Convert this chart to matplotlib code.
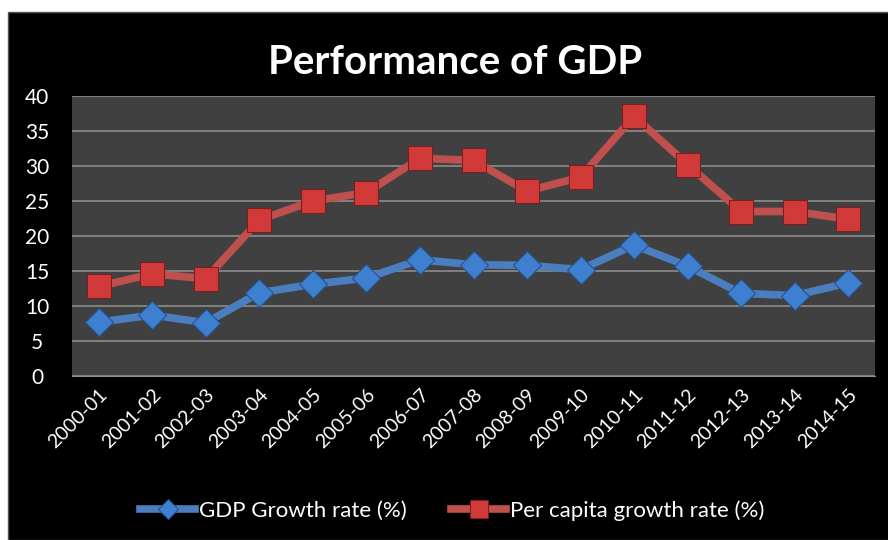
import matplotlib
matplotlib.use('Agg')
import matplotlib.pyplot as plt
import matplotlib.patches as mpatches

# DATA -----------------------------------------------------------------------------------------------------------------
years = ['2000-01', '2001-02', '2002-03', '2003-04', '2004-05', '2005-06', '2006-07', '2007-08',
         '2008-09', '2009-10', '2010-11', '2011-12', '2012-13', '2013-14', '2014-15']
gdp_growth = [7.7, 8.7, 7.6, 11.9, 13.1, 14.0, 16.6, 15.9, 15.8, 15.2, 18.7, 15.7, 11.8, 11.5, 13.3]
per_capita_growth = [12.8, 14.6, 13.9, 22.3, 25.0, 26.2, 31.1, 30.8, 26.4, 28.4, 37.1, 30.2, 23.5, 23.5, 22.4]
y_ticks = [0, 5, 10, 15, 20, 25, 30, 35, 40]

# STYLE ----------------------------------------------------------------------------------------------------------------
plt.rcParams['font.family'] = ['Lato', 'DejaVu Sans']
blue_line, blue_mark, blue_edge = '#4a7ebf', '#3f7fd0', '#24538f'
red_line, red_mark, red_edge = '#c0504d', '#d23a3a', '#7d1d1d'

fig = plt.figure(figsize=(8.88, 5.40), dpi=100, facecolor='white')
# black chart block behind everything
fig.add_artist(mpatches.Rectangle((8 / 888, 0), 1, (540 - 12) / 540, transform=fig.transFigure,
                                  facecolor='black', edgecolor='#555555', linewidth=1, zorder=-5))

ax = fig.add_axes([72 / 888, (540 - 376) / 540, (875 - 72) / 888, (376 - 96) / 540])
ax.set_zorder(1)
ax.set_facecolor('#404040')
x = list(range(len(years)))

ax.plot(x, gdp_growth, color=blue_line, linewidth=5.5, marker='D', markersize=14,
        markerfacecolor=blue_mark, markeredgecolor=blue_edge, markeredgewidth=0.8,
        label='GDP Growth rate (%)', zorder=3)
ax.plot(x, per_capita_growth, color=red_line, linewidth=5.5, marker='s', markersize=17,
        markerfacecolor=red_mark, markeredgecolor=red_edge, markeredgewidth=0.8,
        label='Per capita growth rate (%)', zorder=3)

ax.set_xlim(-0.5, len(years) - 0.5)
ax.set_ylim(0, 40)
ax.set_yticks(y_ticks)
ax.set_xticks(x)
ax.set_xticklabels(years, rotation=45, ha='right', rotation_mode='anchor')
ax.tick_params(axis='both', colors='white', length=0)
ax.tick_params(axis='y', pad=25, labelsize=15)
ax.tick_params(axis='x', pad=7, labelsize=14)
for lbl in ax.get_yticklabels():
    lbl.set_horizontalalignment('center')
ax.grid(axis='y', color='#8c8c8c', linewidth=1.2)
ax.set_axisbelow(True)
for side in ['top', 'right', 'left']:
    ax.spines[side].set_visible(False)
ax.spines['bottom'].set_color('#8c8c8c')

fig.text(0.512, 0.884, 'Performance of GDP', color='white', fontsize=29, fontweight='bold',
         ha='center', va='center')

leg = fig.legend(loc='center', bbox_to_anchor=(0.509, 0.055), ncol=2, frameon=False,
                 fontsize=16, handlelength=2.5, columnspacing=2, handletextpad=0.15, markerscale=0.75)
for t in leg.get_texts():
    t.set_color('white')

fig.savefig('out.png', dpi=100, facecolor=fig.get_facecolor())
